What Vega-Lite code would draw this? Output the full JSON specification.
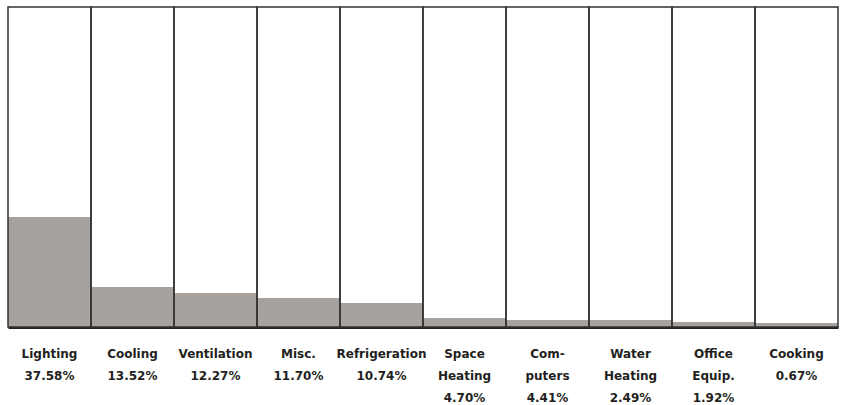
{
  "$schema": "https://vega.github.io/schema/vega-lite/v6.json",
  "width": 830,
  "height": 320,
  "autosize": {"type": "none"},
  "padding": {"left": 8, "top": 7, "right": 12, "bottom": 78},
  "background": "white",
  "config": {"view": {"stroke": null}},
  "data": {
    "values": [
      {"label": "Lighting|37.58%", "share": 37.58, "bar": 37.6},
      {"label": "Cooling|13.52%", "share": 13.52, "bar": 13.7},
      {"label": "Ventilation|12.27%", "share": 12.27, "bar": 11.6},
      {"label": "Misc.|11.70%", "share": 11.70, "bar": 9.9},
      {"label": "Refrigeration|10.74%", "share": 10.74, "bar": 8.2},
      {"label": "Space|Heating|4.70%", "share": 4.70, "bar": 3.1},
      {"label": "Com-|puters|4.41%", "share": 4.41, "bar": 2.4},
      {"label": "Water|Heating|2.49%", "share": 2.49, "bar": 2.4},
      {"label": "Office|Equip.|1.92%", "share": 1.92, "bar": 1.7},
      {"label": "Cooking|0.67%", "share": 0.67, "bar": 1.4}
    ]
  },
  "encoding": {
    "x": {
      "field": "label",
      "type": "nominal",
      "sort": null,
      "scale": {"paddingInner": 0, "paddingOuter": 0},
      "axis": {
        "title": null,
        "labelExpr": "split(datum.value, '|')",
        "labelAngle": 0,
        "labelFont": "DejaVu Sans",
        "labelFontWeight": "bold",
        "labelFontSize": 12,
        "labelColor": "#231f20",
        "labelLineHeight": 22,
        "labelPadding": 26,
        "labelBaseline": "middle",
        "ticks": false,
        "domainColor": "#231f20",
        "domainWidth": 3
      }
    }
  },
  "layer": [
    {
      "mark": {"type": "bar", "fill": "white", "stroke": null},
      "encoding": {
        "y": {"datum": 109.3, "type": "quantitative", "scale": {"domain": [0, 109.3], "nice": false}, "axis": null},
        "y2": {"datum": 0}
      }
    },
    {
      "mark": {"type": "bar", "fill": "#a8a29f", "stroke": null},
      "encoding": {
        "y": {"field": "bar", "type": "quantitative", "scale": {"domain": [0, 109.3], "nice": false}, "axis": null}
      }
    },
    {
      "mark": {"type": "bar", "fill": "transparent", "stroke": "#333333", "strokeWidth": 1.5},
      "encoding": {
        "y": {"datum": 109.3, "type": "quantitative", "scale": {"domain": [0, 109.3], "nice": false}, "axis": null},
        "y2": {"datum": 0}
      }
    }
  ]
}
